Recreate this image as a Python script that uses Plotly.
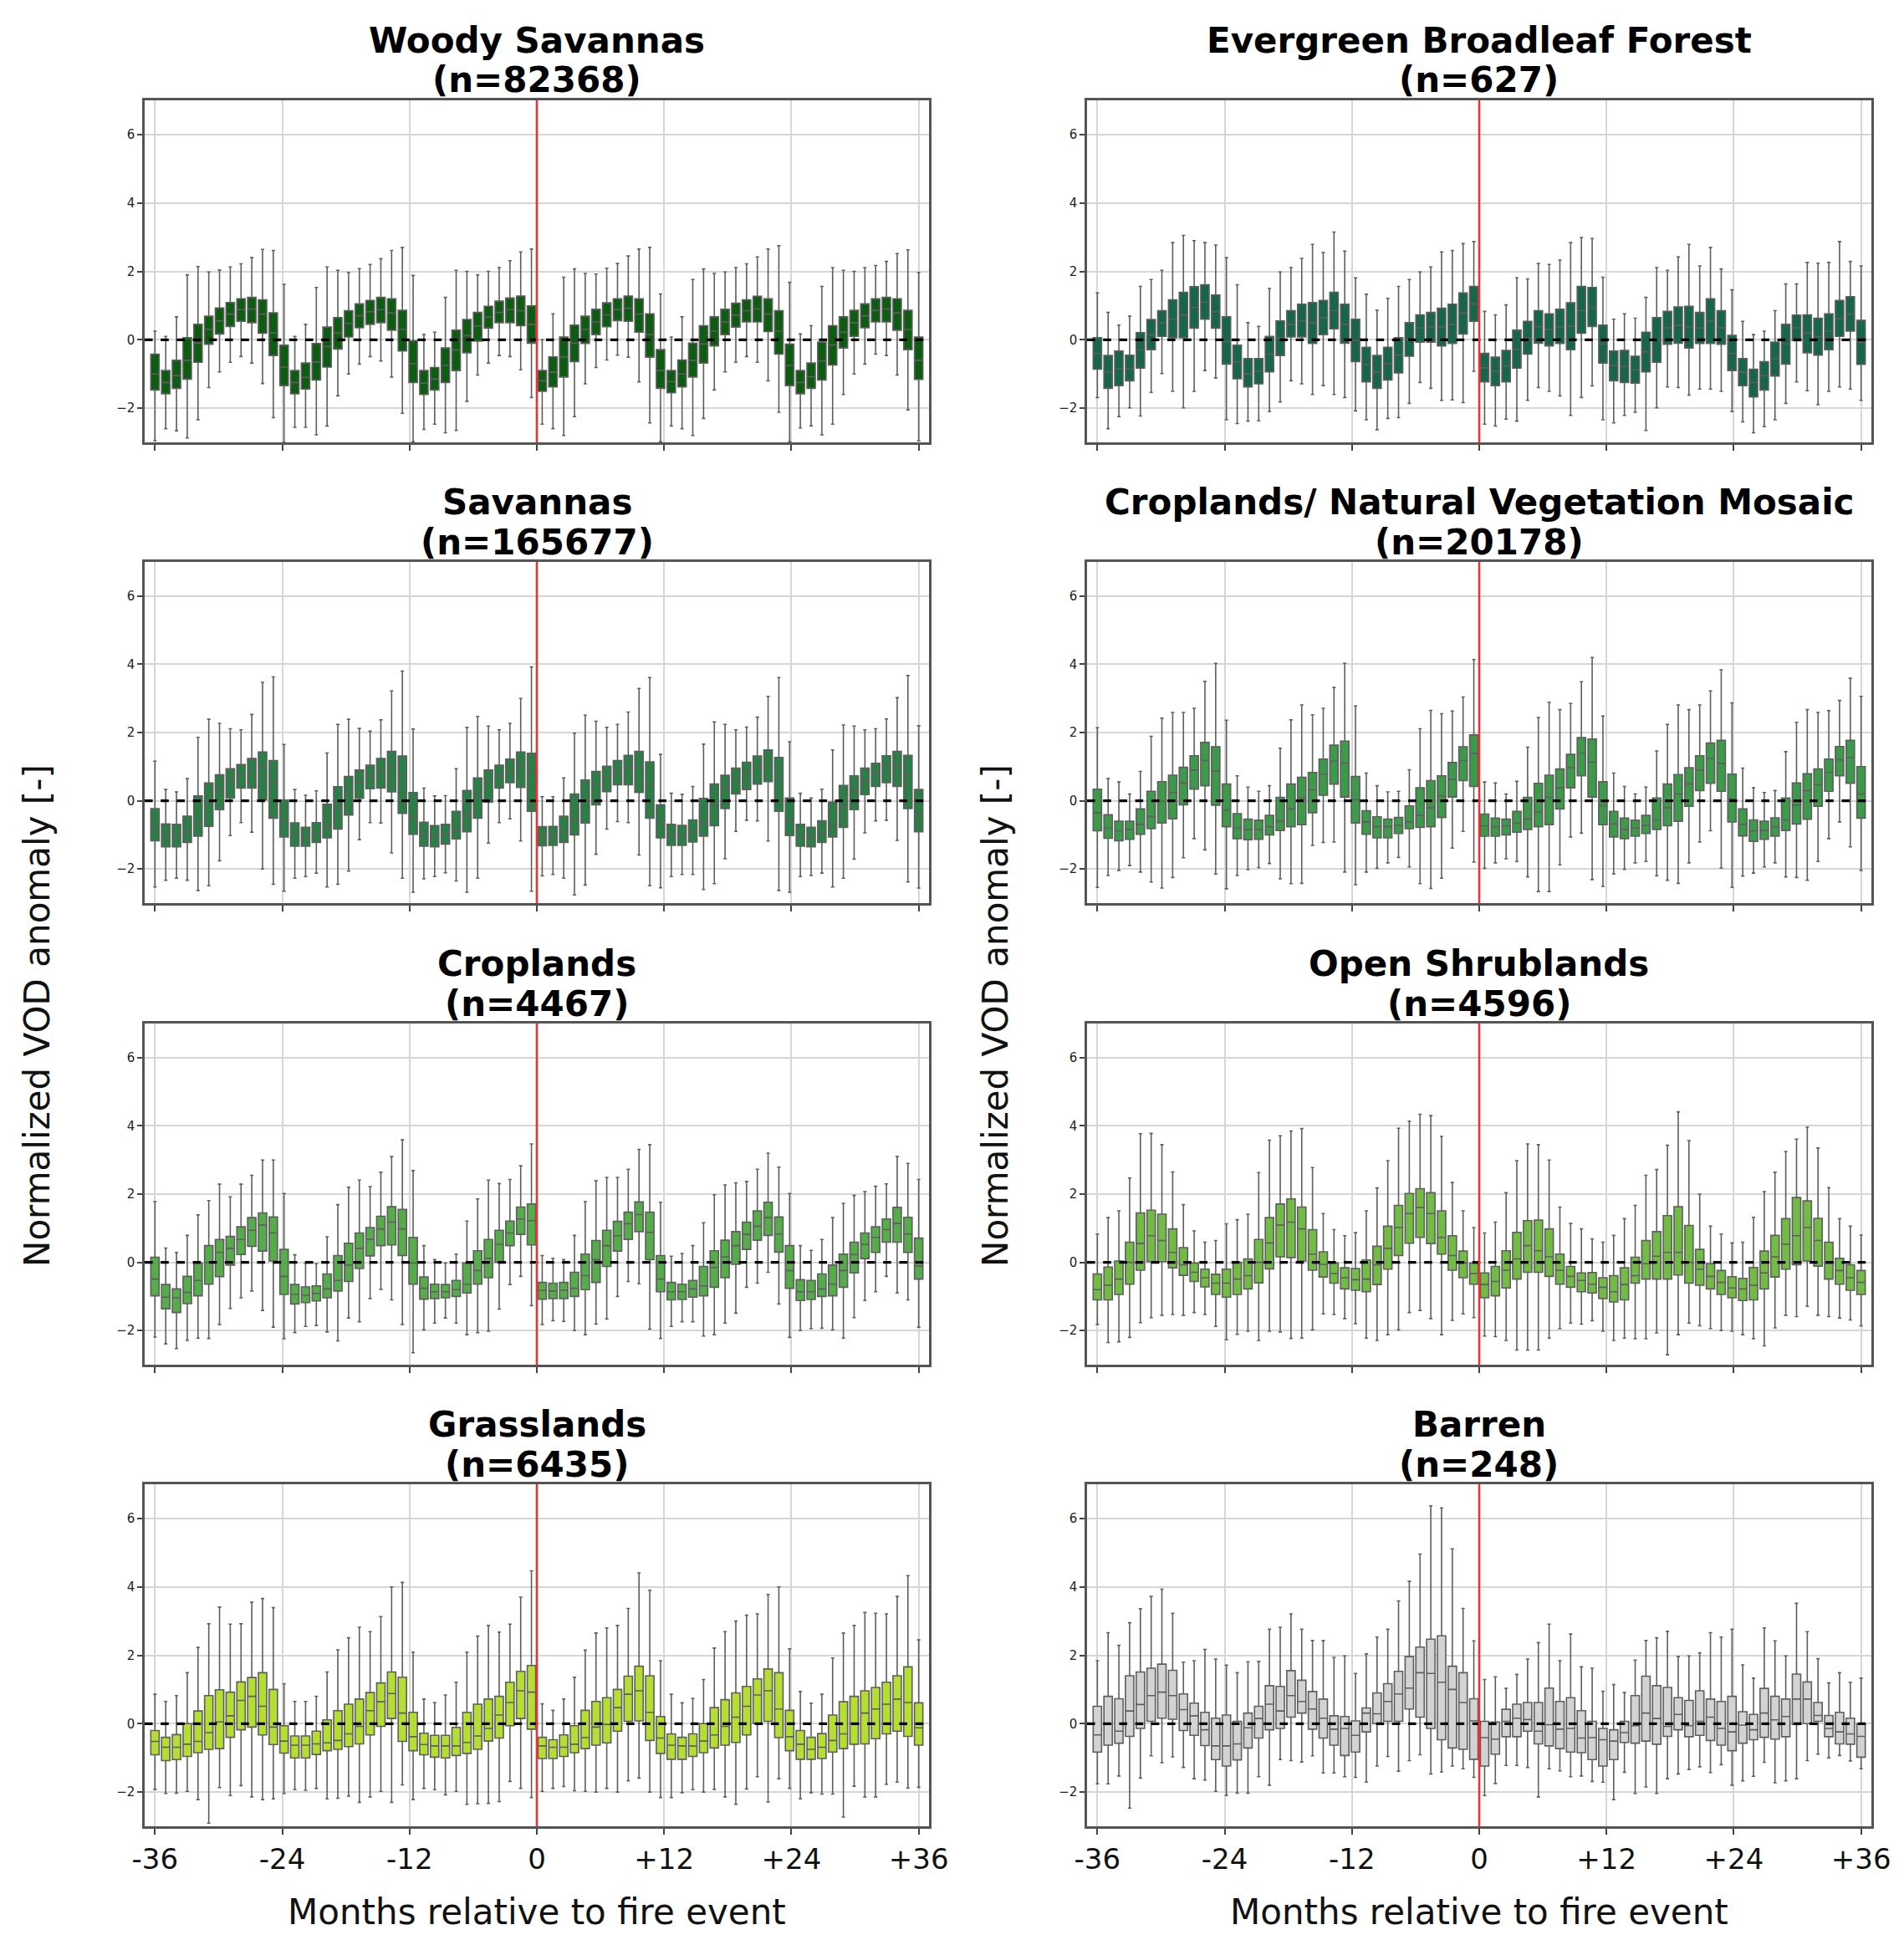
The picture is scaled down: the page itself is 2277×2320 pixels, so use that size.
import numpy as np
import plotly.graph_objects as go

# ── Months relative to the fire event (no box at month 0) ─────────────────────
MONTHS = list(range(-36, 0)) + list(range(1, 37))
TICK_LABELS = ["-36", "-24", "-12", "0", "+12", "+24", "+36"]

# ── Woody Savannas (n=82368) ──────────────────────────────────────────────────
WS_Q3 = [-0.42, -0.9, -0.6, 0.06, 0.45, 0.69, 0.93, 1.09, 1.2, 1.24, 1.17, 0.79, -0.16, -0.9, -0.68, -0.11, 0.37, 0.65, 0.85, 1.05, 1.15, 1.24, 1.2, 0.86, -0.03, -0.9, -0.81, -0.24, 0.28, 0.59, 0.8, 0.98, 1.13, 1.22, 1.28, 0.99,
         -0.9, -0.5, 0.08, 0.43, 0.69, 0.89, 1.08, 1.2, 1.28, 1.2, 0.76, -0.29, -0.9, -0.59, -0.1, 0.41, 0.67, 0.89, 1.07, 1.17, 1.27, 1.2, 0.85, -0.13, -0.9, -0.68, -0.07, 0.41, 0.67, 0.86, 1.05, 1.2, 1.24, 1.2, 0.86, 0.08]
WS_Q1 = [-1.47, -1.58, -1.42, -1.15, -0.66, -0.13, 0.17, 0.39, 0.54, 0.5, 0.19, -0.46, -1.34, -1.58, -1.44, -1.18, -0.8, -0.27, 0.08, 0.35, 0.45, 0.5, 0.28, -0.33, -1.25, -1.6, -1.47, -1.25, -0.9, -0.38, -0.04, 0.34, 0.5, 0.5, 0.41, -0.1,
         -1.51, -1.38, -1.09, -0.64, -0.11, 0.15, 0.38, 0.56, 0.54, 0.22, -0.51, -1.42, -1.55, -1.38, -1.09, -0.68, -0.18, 0.15, 0.37, 0.52, 0.52, 0.24, -0.42, -1.34, -1.58, -1.42, -1.18, -0.74, -0.24, 0.1, 0.35, 0.52, 0.52, 0.28, -0.29, -1.16]
WS_MED = [-1.0, -1.25, -1.05, -0.6, -0.1, 0.3, 0.55, 0.75, 0.88, 0.9, 0.75, 0.2, -0.8, -1.25, -1.1, -0.65, -0.2, 0.2, 0.48, 0.7, 0.82, 0.88, 0.78, 0.3, -0.7, -1.27, -1.15, -0.75, -0.3, 0.12, 0.4, 0.66, 0.8, 0.88, 0.85, 0.45,
          -1.2, -0.95, -0.5, -0.1, 0.3, 0.52, 0.73, 0.88, 0.92, 0.75, 0.15, -0.9, -1.22, -1.0, -0.6, -0.12, 0.25, 0.52, 0.72, 0.85, 0.9, 0.75, 0.25, -0.75, -1.25, -1.08, -0.62, -0.15, 0.22, 0.5, 0.7, 0.86, 0.9, 0.78, 0.3, -0.6]
WS_HI = [0.25, 0.1, 0.67, 1.9, 2.14, 1.98, 2.04, 2.13, 2.22, 2.4, 2.64, 2.61, 1.62, 0.1, 0.45, 1.53, 2.13, 2.03, 1.97, 2.08, 2.2, 2.37, 2.61, 2.7, 1.88, 0.15, 0.22, 1.24, 2.03, 2.0, 1.9, 2.0, 2.11, 2.31, 2.57, 2.65,
         0.0, 0.76, 1.83, 2.07, 1.94, 1.92, 2.09, 2.23, 2.45, 2.65, 2.7, 1.34, 0.08, 0.67, 1.76, 2.07, 1.94, 1.98, 2.11, 2.22, 2.42, 2.65, 2.75, 1.68, 0.17, 0.41, 1.56, 2.11, 2.03, 2.0, 2.11, 2.17, 2.29, 2.52, 2.63, 1.97]
WS_LO = [-2.95, -2.6, -2.66, -2.87, -2.34, -1.4, -0.94, -0.66, -0.49, -0.68, -1.28, -2.28, -3.0, -2.56, -2.56, -2.78, -2.52, -1.64, -1.0, -0.71, -0.49, -0.62, -1.09, -2.15, -2.98, -2.62, -2.47, -2.72, -2.65, -1.8, -1.03, -0.68, -0.46, -0.49, -0.88, -1.69,
         -2.47, -2.6, -2.8, -2.25, -1.29, -0.81, -0.59, -0.45, -0.51, -1.23, -2.43, -2.98, -2.52, -2.6, -2.8, -2.3, -1.47, -0.94, -0.66, -0.49, -0.66, -1.2, -2.12, -2.98, -2.58, -2.52, -2.78, -2.47, -1.6, -1.0, -0.71, -0.42, -0.46, -1.03, -2.05, -2.95]

# ── Evergreen Broadleaf Forest (n=627) ────────────────────────────────────────
EBF_Q3 = [0.06, -0.46, -0.33, -0.45, 0.21, 0.59, 0.85, 1.17, 1.39, 1.55, 1.61, 1.31, 0.67, -0.16, -0.55, -0.55, 0.1, 0.55, 0.85, 1.04, 1.09, 1.15, 1.39, 1.04, 0.6, -0.22, -0.46, -0.22, 0.06, 0.5, 0.73, 0.8, 0.92, 1.04, 1.37, 1.56,
          -0.4, -0.51, -0.31, 0.28, 0.54, 0.85, 0.76, 0.89, 1.08, 1.56, 1.53, 0.43, -0.33, -0.31, -0.48, 0.22, 0.65, 0.83, 0.96, 0.98, 0.8, 1.2, 0.85, 0.13, -0.55, -0.86, -0.64, -0.07, 0.45, 0.72, 0.73, 0.63, 0.76, 1.15, 1.26, 0.57]
EBF_Q1 = [-0.86, -1.42, -1.34, -1.2, -0.83, -0.29, 0.1, 0.06, 0.06, 0.34, 0.6, 0.34, -0.71, -1.14, -1.38, -1.29, -0.94, -0.46, 0.08, 0.08, -0.11, 0.15, 0.32, -0.1, -0.64, -1.23, -1.42, -1.18, -0.97, -0.48, -0.07, -0.07, -0.18, -0.11, 0.17, 0.54,
          -1.23, -1.34, -1.23, -0.83, -0.42, -0.1, -0.18, -0.11, -0.29, 0.19, 0.39, -0.68, -1.2, -1.25, -1.27, -0.94, -0.66, -0.13, -0.1, -0.24, -0.11, -0.11, -0.13, -0.9, -1.34, -1.67, -1.47, -1.06, -0.71, -0.03, -0.38, -0.45, -0.29, 0.1, 0.25, -0.72]
EBF_MED = [-0.4, -0.95, -0.85, -0.85, -0.3, 0.15, 0.5, 0.6, 0.72, 0.95, 1.1, 0.82, -0.05, -0.65, -1.0, -0.92, -0.42, 0.05, 0.45, 0.55, 0.5, 0.65, 0.85, 0.45, -0.02, -0.72, -0.95, -0.7, -0.45, 0.0, 0.35, 0.38, 0.38, 0.45, 0.78, 1.05,
           -0.82, -0.92, -0.77, -0.28, 0.05, 0.38, 0.3, 0.38, 0.4, 0.85, 0.95, -0.12, -0.75, -0.78, -0.88, -0.35, 0.0, 0.35, 0.42, 0.38, 0.35, 0.55, 0.35, -0.4, -0.95, -1.25, -1.05, -0.55, -0.12, 0.35, 0.2, 0.1, 0.25, 0.62, 0.75, -0.08]
EBF_HI = [1.37, 0.8, 0.43, 0.69, 1.56, 1.76, 2.03, 2.84, 3.05, 2.9, 2.84, 2.77, 2.4, 1.61, 0.5, 0.39, 1.5, 1.98, 2.11, 2.38, 2.79, 2.55, 3.15, 2.59, 1.81, 1.33, 0.86, 1.21, 1.56, 1.76, 1.98, 2.13, 2.57, 2.61, 2.81, 2.87,
          0.83, 0.73, 1.02, 1.81, 1.78, 2.23, 2.2, 2.33, 2.84, 2.99, 2.96, 1.83, 0.6, 0.76, 0.63, 1.24, 2.11, 2.03, 2.42, 2.79, 2.16, 2.7, 2.07, 1.46, 0.54, 0.15, 0.25, 0.85, 1.63, 1.63, 2.26, 2.24, 2.26, 2.87, 2.29, 2.16]
EBF_LO = [-1.69, -2.6, -2.25, -1.99, -2.23, -1.54, -0.99, -1.51, -1.99, -1.51, -0.9, -1.12, -2.34, -2.45, -2.38, -2.37, -2.1, -1.82, -1.2, -1.29, -1.6, -1.34, -1.6, -1.69, -2.08, -2.34, -2.63, -2.3, -2.28, -1.86, -1.25, -1.42, -1.77, -1.76, -1.84, -0.92,
          -2.47, -2.52, -2.32, -2.38, -1.77, -1.4, -1.51, -1.64, -2.21, -1.69, -1.35, -2.34, -2.43, -2.21, -2.12, -2.65, -1.99, -1.38, -1.4, -1.62, -1.44, -1.44, -1.51, -2.1, -2.4, -2.72, -2.54, -2.34, -1.86, -1.23, -1.49, -1.9, -1.51, -1.38, -1.44, -1.77]

# ── Savannas (n=165677) ───────────────────────────────────────────────────────
SAV_Q3 = [-0.23, -0.68, -0.69, -0.45, 0.14, 0.52, 0.76, 0.94, 1.06, 1.24, 1.43, 1.18, 0.02, -0.65, -0.78, -0.64, -0.1, 0.41, 0.71, 0.9, 1.04, 1.24, 1.45, 1.31, 0.24, -0.63, -0.73, -0.69, -0.31, 0.3, 0.67, 0.9, 1.04, 1.22, 1.43, 1.39,
          -0.76, -0.75, -0.45, 0.2, 0.61, 0.86, 1.01, 1.18, 1.33, 1.45, 1.14, -0.12, -0.69, -0.72, -0.56, 0.07, 0.49, 0.75, 0.96, 1.13, 1.31, 1.49, 1.27, 0.08, -0.69, -0.78, -0.59, -0.04, 0.45, 0.73, 0.96, 1.1, 1.32, 1.45, 1.33, 0.33]
SAV_Q1 = [-1.17, -1.35, -1.35, -1.22, -1.04, -0.75, -0.26, 0.08, 0.37, 0.37, 0.02, -0.51, -1.06, -1.33, -1.33, -1.22, -1.09, -0.83, -0.42, 0.07, 0.35, 0.37, 0.26, -0.37, -0.98, -1.33, -1.35, -1.27, -1.12, -0.91, -0.51, -0.04, 0.37, 0.53, 0.39, -0.31,
          -1.32, -1.31, -1.22, -1.0, -0.65, -0.12, 0.27, 0.47, 0.47, 0.24, -0.51, -1.09, -1.31, -1.31, -1.21, -1.04, -0.73, -0.23, 0.2, 0.33, 0.49, 0.56, -0.31, -1.02, -1.33, -1.35, -1.22, -1.06, -0.78, -0.26, 0.18, 0.42, 0.53, 0.42, -0.23, -0.91]
SAV_MED = [-0.76, -1.04, -1.04, -0.92, -0.65, -0.04, 0.34, 0.61, 0.76, 0.91, 1.0, 0.53, -0.61, -0.98, -1.04, -0.96, -0.78, -0.2, 0.24, 0.55, 0.73, 0.87, 1.02, 0.73, -0.47, -0.98, -1.04, -0.98, -0.86, -0.41, 0.18, 0.53, 0.73, 0.86, 1.06, 0.86,
           -1.04, -1.04, -0.9, -0.57, 0.0, 0.47, 0.69, 0.86, 0.98, 1.0, 0.47, -0.65, -1.02, -1.02, -0.9, -0.65, -0.12, 0.38, 0.63, 0.85, 1.0, 1.0, 0.72, -0.57, -1.04, -1.06, -0.94, -0.72, -0.18, 0.31, 0.6, 0.82, 1.04, 1.06, 0.76, -0.41]
SAV_HI = [1.16, 0.33, 0.26, 0.65, 1.86, 2.39, 2.27, 2.11, 2.08, 2.53, 3.47, 3.63, 1.65, 0.33, 0.16, 0.29, 1.4, 2.24, 2.39, 2.12, 2.04, 2.37, 3.22, 3.8, 2.1, 0.37, 0.14, 0.15, 0.94, 2.15, 2.47, 2.19, 2.08, 2.27, 3.0, 3.92,
          0.12, 0.12, 0.67, 1.98, 2.51, 2.33, 2.15, 2.24, 2.6, 3.29, 3.61, 1.36, 0.22, 0.19, 0.42, 1.66, 2.31, 2.24, 2.08, 2.16, 2.45, 3.06, 3.61, 1.73, 0.22, 0.08, 0.34, 1.49, 2.22, 2.19, 2.08, 2.11, 2.4, 3.02, 3.67, 2.2]
SAV_LO = [-2.53, -2.33, -2.27, -2.33, -2.63, -2.49, -1.76, -1.02, -0.64, -0.92, -2.0, -2.45, -2.65, -2.27, -2.22, -2.12, -2.53, -2.45, -2.06, -1.14, -0.64, -0.65, -1.53, -2.27, -2.68, -2.29, -2.22, -2.11, -2.35, -2.68, -2.27, -1.24, -0.64, -0.53, -1.18, -2.65,
          -2.2, -2.16, -2.27, -2.76, -2.47, -1.57, -0.83, -0.61, -0.64, -1.59, -2.49, -2.55, -2.22, -2.16, -2.16, -2.6, -2.43, -1.7, -0.9, -0.57, -0.59, -1.18, -2.63, -2.68, -2.22, -2.19, -2.12, -2.53, -2.27, -1.71, -0.94, -0.59, -0.57, -1.16, -2.38, -2.56]

# ── Croplands/ Natural Vegetation Mosaic (n=20178) ────────────────────────────
CNV_Q3 = [0.34, -0.41, -0.6, -0.6, -0.24, 0.28, 0.56, 0.75, 0.98, 1.32, 1.71, 1.58, 0.49, -0.38, -0.54, -0.57, -0.43, 0.1, 0.49, 0.69, 0.83, 1.22, 1.63, 1.75, 0.71, -0.29, -0.47, -0.54, -0.49, -0.15, 0.38, 0.59, 0.73, 1.12, 1.58, 1.93,
          -0.39, -0.51, -0.54, -0.31, 0.1, 0.51, 0.75, 0.93, 1.36, 1.85, 1.81, 0.56, -0.31, -0.51, -0.57, -0.43, 0.08, 0.49, 0.77, 0.97, 1.32, 1.69, 1.77, 0.78, -0.24, -0.56, -0.6, -0.5, 0.08, 0.52, 0.79, 0.93, 1.22, 1.59, 1.77, 1.0]
CNV_Q1 = [-0.88, -1.1, -1.17, -1.13, -0.98, -0.82, -0.65, -0.53, -0.12, 0.34, 0.44, -0.13, -0.76, -1.11, -1.14, -1.13, -1.0, -0.87, -0.76, -0.7, -0.35, 0.16, 0.49, 0.11, -0.65, -0.98, -1.09, -1.09, -0.96, -0.82, -0.78, -0.76, -0.49, 0.11, 0.59, 0.42,
          -1.04, -1.04, -1.0, -0.92, -0.84, -0.76, -0.7, -0.24, 0.38, 0.73, 0.11, -0.7, -1.06, -1.11, -1.04, -0.96, -0.84, -0.73, -0.6, -0.16, 0.3, 0.51, 0.28, -0.62, -1.03, -1.19, -1.13, -1.04, -0.87, -0.68, -0.54, -0.16, 0.28, 0.73, 0.51, -0.51]
CNV_MED = [-0.35, -0.8, -0.88, -0.84, -0.7, -0.46, -0.01, 0.24, 0.52, 0.9, 1.18, 0.87, -0.27, -0.8, -0.84, -0.84, -0.76, -0.6, -0.24, 0.08, 0.32, 0.78, 1.16, 1.1, 0.03, -0.62, -0.76, -0.76, -0.72, -0.62, -0.43, -0.21, 0.14, 0.63, 1.18, 1.39,
           -0.74, -0.76, -0.74, -0.66, -0.54, -0.33, 0.1, 0.38, 0.97, 1.4, 1.14, -0.15, -0.68, -0.84, -0.8, -0.72, -0.56, -0.21, 0.2, 0.49, 0.89, 1.24, 1.09, 0.06, -0.7, -0.88, -0.87, -0.76, -0.56, -0.13, 0.3, 0.47, 0.83, 1.2, 1.26, 0.2]
CNV_HI = [2.14, 0.65, 0.55, 0.2, 0.86, 1.89, 2.42, 2.59, 2.59, 2.71, 3.5, 4.03, 2.36, 0.73, 0.4, 0.28, 0.44, 1.54, 2.37, 2.81, 2.52, 2.71, 3.32, 4.03, 2.78, 0.81, 0.44, 0.26, 0.28, 0.91, 2.11, 2.65, 2.55, 2.63, 3.04, 4.14,
          0.55, 0.52, 0.2, 0.57, 1.57, 2.44, 2.89, 2.67, 2.85, 3.49, 4.2, 2.48, 0.81, 0.42, 0.2, 0.4, 1.46, 2.24, 2.81, 2.67, 2.81, 3.22, 3.84, 2.87, 0.96, 0.38, 0.24, 0.3, 1.44, 2.3, 2.67, 2.59, 2.64, 2.94, 3.59, 3.06]
CNV_LO = [-2.54, -2.19, -2.04, -1.9, -2.09, -2.38, -2.56, -2.25, -1.67, -1.11, -1.44, -2.15, -2.58, -2.19, -2.02, -1.96, -1.84, -2.29, -2.43, -2.42, -1.31, -1.22, -1.21, -2.09, -2.46, -2.09, -1.98, -1.82, -1.66, -1.94, -2.43, -2.57, -2.27, -1.39, -0.9, -1.8,
          -1.98, -1.82, -1.7, -1.78, -2.23, -2.66, -2.66, -1.88, -1.06, -0.95, -2.31, -2.51, -2.15, -2.01, -1.82, -1.78, -2.2, -2.33, -2.42, -1.82, -1.21, -0.88, -1.97, -2.54, -2.21, -2.12, -1.94, -1.82, -2.23, -2.25, -2.33, -1.78, -1.11, -0.62, -1.35, -2.04]

# ── Croplands (n=4467) ────────────────────────────────────────────────────────
CRO_Q3 = [0.15, -0.65, -0.78, -0.41, -0.02, 0.49, 0.67, 0.76, 1.04, 1.31, 1.45, 1.33, 0.38, -0.65, -0.72, -0.69, -0.34, 0.2, 0.56, 0.86, 1.02, 1.35, 1.63, 1.55, 0.73, -0.43, -0.64, -0.65, -0.53, -0.02, 0.34, 0.67, 0.94, 1.21, 1.62, 1.71,
          -0.59, -0.61, -0.59, -0.29, 0.24, 0.64, 0.94, 1.2, 1.47, 1.77, 1.47, 0.2, -0.59, -0.64, -0.53, -0.12, 0.34, 0.65, 0.9, 1.18, 1.51, 1.76, 1.33, 0.49, -0.51, -0.53, -0.34, -0.08, 0.24, 0.59, 0.86, 1.04, 1.27, 1.61, 1.32, 0.71]
CRO_Q1 = [-0.98, -1.36, -1.47, -1.21, -0.98, -0.64, -0.42, -0.08, 0.23, 0.47, 0.33, 0.04, -0.94, -1.22, -1.18, -1.13, -1.04, -0.84, -0.56, -0.18, 0.19, 0.49, 0.51, 0.2, -0.64, -1.08, -1.06, -1.04, -1.0, -0.9, -0.64, -0.45, 0.0, 0.49, 0.82, 0.51,
          -1.08, -1.06, -1.06, -1.0, -0.8, -0.59, -0.12, 0.33, 0.67, 0.9, 0.08, -0.86, -1.1, -1.09, -1.02, -0.98, -0.73, -0.45, -0.06, 0.38, 0.65, 0.79, 0.3, -0.76, -1.12, -1.09, -1.0, -0.98, -0.73, -0.31, 0.11, 0.29, 0.59, 0.59, 0.29, -0.49]
CRO_MED = [-0.49, -1.02, -1.04, -0.88, -0.53, 0.0, 0.29, 0.41, 0.67, 0.94, 1.09, 0.86, -0.41, -0.94, -0.96, -0.91, -0.78, -0.53, -0.08, 0.41, 0.67, 0.98, 1.18, 0.98, -0.02, -0.76, -0.86, -0.86, -0.8, -0.64, -0.24, 0.12, 0.53, 0.86, 1.27, 1.22,
           -0.82, -0.84, -0.82, -0.76, -0.39, 0.08, 0.49, 0.78, 1.13, 1.4, 0.88, -0.49, -0.86, -0.86, -0.78, -0.69, -0.15, 0.16, 0.49, 0.82, 1.06, 1.31, 0.83, -0.24, -0.86, -0.86, -0.78, -0.64, -0.24, 0.23, 0.53, 0.73, 0.96, 1.14, 0.83, -0.11]
CRO_HI = [1.78, 0.42, 0.29, 0.79, 1.39, 1.81, 2.29, 1.92, 2.29, 2.55, 3.0, 3.0, 2.02, 0.22, -0.02, -0.04, 0.75, 1.69, 2.2, 2.41, 2.22, 2.64, 3.1, 3.59, 2.69, 0.49, 0.08, -0.02, 0.24, 1.21, 1.86, 2.41, 2.31, 2.43, 2.83, 3.47,
          0.2, 0.12, 0.08, 0.79, 1.78, 2.39, 2.49, 2.49, 2.73, 3.31, 3.45, 1.76, 0.18, 0.26, 0.49, 1.16, 1.98, 2.27, 2.33, 2.37, 2.73, 3.2, 2.79, 2.02, 0.49, 0.35, 0.67, 1.31, 1.73, 1.96, 2.07, 2.23, 2.3, 3.1, 2.9, 2.43]
CRO_LO = [-2.19, -2.39, -2.53, -2.29, -2.22, -2.23, -1.82, -1.35, -1.04, -0.84, -1.41, -1.9, -2.24, -2.06, -1.88, -1.85, -2.04, -2.3, -1.63, -1.74, -1.06, -0.79, -1.1, -1.82, -2.65, -1.98, -1.78, -1.63, -1.78, -2.12, -2.06, -2.02, -1.37, -0.65, -0.41, -1.27,
          -1.82, -1.71, -1.73, -2.0, -2.12, -1.81, -1.66, -1.0, -0.56, -0.63, -1.96, -2.23, -1.88, -1.74, -1.74, -2.16, -2.12, -1.78, -1.49, -0.73, -0.61, -0.29, -1.22, -2.2, -2.0, -1.94, -1.93, -1.98, -2.22, -1.62, -1.12, -0.86, -0.41, -0.9, -1.1, -1.9]

# ── Open Shrublands (n=4596) ──────────────────────────────────────────────────
OSH_Q3 = [-0.34, -0.14, 0.04, 0.59, 1.45, 1.53, 1.41, 0.98, 0.43, -0.02, -0.2, -0.35, -0.2, 0.0, 0.1, 0.67, 1.31, 1.71, 1.86, 1.62, 0.96, 0.31, -0.02, -0.16, -0.18, 0.07, 0.47, 1.06, 1.67, 2.02, 2.16, 2.04, 1.51, 0.78, 0.33, -0.02,
          -0.31, -0.12, 0.34, 0.88, 1.22, 1.24, 0.98, 0.24, -0.12, -0.31, -0.3, -0.45, -0.39, -0.16, 0.15, 0.64, 0.9, 1.37, 1.63, 1.08, 0.38, -0.04, -0.24, -0.42, -0.47, -0.15, 0.33, 0.79, 1.28, 1.9, 1.8, 1.29, 0.59, 0.12, -0.07, -0.24]
OSH_Q1 = [-1.1, -1.1, -0.94, -0.64, -0.23, 0.02, 0.02, -0.16, -0.38, -0.56, -0.72, -0.94, -1.02, -0.94, -0.78, -0.6, -0.19, 0.16, 0.14, 0.04, -0.23, -0.43, -0.61, -0.78, -0.82, -0.86, -0.65, -0.2, 0.2, 0.56, 0.73, 0.55, 0.24, -0.23, -0.45, -0.64,
          -1.04, -0.98, -0.75, -0.49, -0.29, -0.29, -0.41, -0.64, -0.73, -0.86, -0.9, -1.06, -1.16, -1.1, -0.61, -0.49, -0.49, -0.49, -0.37, -0.61, -0.67, -0.78, -0.94, -1.04, -1.12, -1.1, -0.78, -0.43, -0.2, -0.07, 0.04, -0.11, -0.49, -0.64, -0.82, -0.94]
OSH_MED = [-0.8, -0.67, -0.49, 0.0, 0.55, 0.78, 0.64, 0.29, -0.07, -0.29, -0.45, -0.61, -0.61, -0.49, -0.39, 0.0, 0.57, 1.09, 1.18, 0.98, 0.24, -0.06, -0.33, -0.45, -0.51, -0.49, -0.07, 0.41, 1.02, 1.43, 1.61, 1.43, 0.73, 0.2, -0.02, -0.33,
           -0.65, -0.56, -0.23, 0.1, 0.49, 0.34, 0.16, -0.23, -0.41, -0.53, -0.64, -0.73, -0.86, -0.65, -0.39, -0.04, 0.18, 0.29, 0.29, 0.0, -0.2, -0.41, -0.59, -0.75, -0.78, -0.67, -0.31, 0.16, 0.53, 0.78, 1.02, 0.64, -0.02, -0.24, -0.45, -0.59]
OSH_HI = [0.83, 1.31, 1.51, 2.47, 3.77, 3.78, 3.45, 2.65, 1.69, 0.92, 0.59, 0.64, 1.13, 1.25, 1.41, 2.63, 3.58, 3.71, 3.85, 3.92, 2.78, 1.43, 0.96, 0.78, 0.87, 1.51, 2.18, 2.98, 3.93, 4.14, 4.34, 4.3, 3.69, 2.34, 1.51, 1.02,
          0.86, 1.18, 2.04, 2.98, 3.47, 3.45, 3.0, 1.62, 1.14, 0.98, 0.69, 0.59, 0.79, 1.28, 1.67, 2.55, 2.72, 3.43, 4.41, 3.57, 2.0, 1.06, 0.83, 0.57, 0.59, 1.32, 2.07, 2.64, 3.25, 3.61, 3.96, 3.35, 2.19, 1.28, 1.06, 0.8]
OSH_LO = [-1.82, -2.35, -2.33, -2.2, -1.77, -1.62, -1.55, -1.53, -1.55, -1.47, -1.53, -1.88, -2.27, -2.11, -2.02, -2.29, -2.02, -2.04, -2.23, -2.22, -1.98, -1.51, -1.53, -1.65, -1.8, -2.22, -2.29, -2.12, -1.98, -1.47, -1.41, -1.65, -2.12, -1.7, -1.51, -1.62,
          -2.16, -2.18, -2.29, -2.57, -2.57, -2.57, -2.22, -1.94, -1.78, -1.81, -1.71, -2.02, -2.29, -2.22, -2.24, -2.24, -2.07, -2.71, -2.12, -1.78, -1.86, -1.94, -2.0, -2.02, -2.12, -2.24, -2.45, -1.92, -1.55, -1.59, -1.29, -1.55, -1.59, -1.63, -1.69, -1.86]

# ── Grasslands (n=6435) ───────────────────────────────────────────────────────
GRA_Q3 = [-0.2, -0.4, -0.32, 0.0, 0.37, 0.82, 0.99, 0.92, 1.22, 1.35, 1.49, 1.0, -0.06, -0.36, -0.36, -0.22, 0.11, 0.38, 0.57, 0.72, 0.91, 1.19, 1.51, 1.36, 0.33, -0.28, -0.34, -0.34, -0.11, 0.33, 0.57, 0.72, 0.8, 1.21, 1.53, 1.7,
          -0.4, -0.47, -0.33, -0.06, 0.39, 0.65, 0.76, 1.0, 1.39, 1.68, 1.4, 0.21, -0.3, -0.4, -0.3, 0.0, 0.47, 0.7, 0.9, 1.09, 1.31, 1.6, 1.49, 0.39, -0.2, -0.4, -0.29, 0.25, 0.64, 0.8, 0.96, 1.06, 1.21, 1.4, 1.66, 0.61]
GRA_Q1 = [-0.91, -1.08, -1.05, -0.96, -0.85, -0.75, -0.73, -0.4, -0.18, -0.1, -0.33, -0.61, -0.86, -1.0, -1.0, -0.9, -0.79, -0.75, -0.67, -0.59, -0.33, -0.08, 0.15, -0.52, -0.79, -0.91, -0.98, -1.0, -0.93, -0.87, -0.75, -0.51, -0.42, -0.06, 0.15, -0.16,
          -1.02, -1.02, -0.96, -0.85, -0.73, -0.63, -0.56, -0.22, 0.07, 0.08, -0.49, -0.87, -1.04, -1.04, -0.96, -0.85, -0.71, -0.63, -0.55, -0.33, 0.0, 0.07, -0.41, -0.79, -1.04, -1.04, -1.02, -0.83, -0.73, -0.6, -0.59, -0.44, -0.3, -0.22, -0.37, -0.63]
GRA_MED = [-0.52, -0.69, -0.69, -0.6, -0.52, -0.26, 0.05, 0.23, 0.68, 0.8, 0.51, -0.1, -0.51, -0.63, -0.63, -0.59, -0.56, -0.49, -0.3, -0.08, 0.38, 0.64, 0.88, 0.31, -0.38, -0.61, -0.65, -0.65, -0.65, -0.55, -0.36, -0.14, 0.25, 0.62, 0.96, 0.92,
           -0.65, -0.69, -0.69, -0.6, -0.41, -0.1, -0.02, 0.47, 0.86, 0.96, 0.33, -0.42, -0.63, -0.65, -0.65, -0.51, -0.33, -0.08, 0.19, 0.51, 0.84, 0.96, 0.43, -0.38, -0.6, -0.75, -0.69, -0.49, -0.3, 0.0, 0.31, 0.43, 0.57, 0.72, 0.62, -0.12]
GRA_HI = [0.86, 0.65, 0.82, 1.49, 2.23, 2.92, 3.41, 2.91, 2.92, 3.55, 3.66, 3.39, 1.17, 0.65, 0.65, 0.8, 1.51, 2.16, 2.51, 2.82, 2.69, 3.13, 4.0, 4.13, 2.09, 0.72, 0.62, 0.84, 1.21, 2.09, 2.56, 2.87, 2.68, 2.91, 3.7, 4.47,
          0.58, 0.39, 0.72, 1.36, 2.15, 2.65, 2.8, 2.87, 3.37, 4.41, 3.9, 1.84, 0.86, 0.61, 0.74, 1.29, 2.21, 2.69, 3.0, 3.17, 3.21, 3.78, 4.0, 2.19, 0.94, 0.6, 0.86, 1.92, 2.65, 2.87, 3.25, 3.23, 3.21, 3.72, 4.33, 2.45]
GRA_LO = [-1.92, -2.04, -2.03, -1.98, -2.22, -2.91, -1.87, -2.1, -1.81, -2.14, -2.22, -2.2, -2.04, -1.93, -1.95, -1.89, -2.2, -2.18, -2.12, -2.3, -2.14, -1.98, -2.3, -1.79, -2.22, -1.89, -1.93, -2.08, -1.98, -2.36, -2.34, -2.33, -2.28, -1.69, -1.89, -2.16,
          -1.98, -1.89, -1.84, -1.96, -1.98, -2.0, -1.89, -2.0, -1.67, -1.59, -2.0, -2.16, -2.16, -2.02, -1.93, -2.0, -1.92, -2.14, -2.36, -1.91, -1.55, -2.29, -1.61, -1.89, -2.2, -2.02, -2.06, -2.06, -2.73, -1.83, -2.14, -2.14, -1.77, -1.71, -1.88, -1.86]

# ── Barren (n=248) ────────────────────────────────────────────────────────────
BAR_Q3 = [0.51, 0.8, 0.73, 1.4, 1.51, 1.62, 1.74, 1.56, 0.87, 0.6, 0.33, 0.16, 0.25, 0.07, 0.31, 0.51, 1.11, 1.09, 1.55, 1.27, 0.94, 0.72, 0.23, 0.21, 0.08, 0.46, 0.9, 1.17, 1.53, 1.96, 2.24, 2.47, 2.57, 1.68, 1.49, 0.73,
          0.07, 0.05, 0.42, 0.57, 0.62, 0.62, 1.04, 0.65, 0.76, 0.38, 0.07, -0.14, -0.18, 0.07, 0.82, 1.39, 1.11, 1.06, 0.76, 0.68, 0.96, 0.72, 0.65, 0.8, 0.35, 0.27, 1.03, 0.8, 0.72, 1.45, 1.22, 0.62, 0.24, 0.33, 0.16, 0.0]
BAR_Q1 = [-0.83, -0.63, -0.57, -0.37, -0.14, 0.07, 0.16, 0.13, -0.2, -0.34, -0.64, -1.05, -1.24, -1.06, -0.71, -0.42, -0.18, -0.14, 0.19, 0.31, -0.16, -0.42, -0.63, -0.93, -0.83, -0.24, 0.0, 0.07, 0.07, 0.43, 0.19, -0.14, -0.47, -0.71, -0.75, -1.04,
          -1.24, -0.89, -0.38, -0.38, -0.22, -0.59, -0.65, -0.73, -0.83, -0.85, -1.05, -1.24, -1.05, -0.55, -0.57, -0.51, -0.6, -0.37, -0.18, -0.38, -0.34, -0.49, -0.63, -0.79, -0.57, -0.47, -0.4, -0.45, -0.38, -0.02, 0.0, 0.07, -0.38, -0.59, -0.6, -0.98]
BAR_MED = [-0.33, -0.02, -0.22, 0.37, 0.56, 0.82, 0.92, 0.82, 0.41, 0.23, -0.18, -0.65, -0.65, -0.59, -0.12, 0.15, 0.57, 0.37, 0.82, 0.65, 0.43, 0.16, -0.16, -0.14, -0.34, 0.31, 0.29, 0.65, 0.87, 1.04, 1.49, 1.47, 1.21, 1.0, 0.62, 0.08,
           -0.41, -0.45, 0.07, 0.16, 0.12, -0.22, -0.03, -0.16, -0.14, -0.42, -0.41, -0.47, -0.51, -0.26, -0.06, 0.31, 0.15, -0.08, 0.27, -0.06, 0.07, 0.19, -0.14, -0.24, -0.04, -0.18, 0.31, 0.11, 0.21, 0.72, 0.72, 0.24, -0.14, -0.24, -0.3, -0.37]
BAR_HI = [1.84, 2.66, 2.29, 2.95, 3.36, 3.72, 3.93, 3.23, 1.8, 1.84, 2.17, 1.89, 1.71, 1.49, 1.81, 1.82, 2.76, 2.82, 3.21, 2.76, 2.43, 2.43, 1.94, 1.98, 1.47, 2.04, 2.53, 2.76, 3.59, 4.16, 4.96, 6.37, 6.31, 5.11, 3.37, 2.42,
          1.29, 1.37, 1.03, 1.44, 1.89, 2.37, 2.91, 1.84, 2.62, 1.66, 1.62, 0.95, 1.14, 0.91, 1.86, 2.43, 2.51, 2.7, 1.96, 1.98, 2.07, 2.66, 2.53, 2.76, 1.72, 1.33, 2.8, 2.42, 1.98, 3.52, 2.69, 1.9, 1.19, 1.49, 1.21, 1.33]
BAR_LO = [-1.76, -1.76, -1.53, -2.47, -1.59, -0.94, -1.14, -0.97, -1.28, -1.61, -1.65, -1.98, -2.1, -2.03, -2.03, -1.55, -1.8, -1.05, -1.08, -1.12, -0.94, -1.44, -1.44, -1.55, -1.57, -1.71, -1.24, -0.96, -1.39, -1.08, -0.91, -1.47, -1.41, -1.24, -1.32, -1.57,
          -2.1, -1.75, -1.22, -1.22, -1.28, -2.14, -1.32, -1.38, -1.55, -1.53, -1.69, -1.71, -2.22, -1.42, -2.04, -1.85, -2.04, -1.61, -1.47, -1.34, -1.26, -1.43, -1.2, -1.8, -1.67, -1.54, -1.13, -1.73, -1.67, -1.61, -1.08, -0.89, -1.0, -0.93, -1.09, -1.32]

# ── Panel definitions (row-major, 4 rows x 2 cols) ────────────────────────────
PANELS = [
    ("Woody Savannas", 82368, "#0c5c12", WS_Q1, WS_MED, WS_Q3, WS_LO, WS_HI),
    ("Evergreen Broadleaf Forest", 627, "#15664a", EBF_Q1, EBF_MED, EBF_Q3, EBF_LO, EBF_HI),
    ("Savannas", 165677, "#2b7f46", SAV_Q1, SAV_MED, SAV_Q3, SAV_LO, SAV_HI),
    ("Croplands/ Natural Vegetation Mosaic", 20178, "#3e9a4b", CNV_Q1, CNV_MED, CNV_Q3, CNV_LO, CNV_HI),
    ("Croplands", 4467, "#56ab4a", CRO_Q1, CRO_MED, CRO_Q3, CRO_LO, CRO_HI),
    ("Open Shrublands", 4596, "#72bb45", OSH_Q1, OSH_MED, OSH_Q3, OSH_LO, OSH_HI),
    ("Grasslands", 6435, "#b4de34", GRA_Q1, GRA_MED, GRA_Q3, GRA_LO, GRA_HI),
    ("Barren", 248, "#d3d3d3", BAR_Q1, BAR_MED, BAR_Q3, BAR_LO, BAR_HI),
]

# ── Page geometry: the 8px body margin sits round the figure in the window ────
WIN_W, WIN_H, OFF = 2277, 2320, 8
W, H = WIN_W - 2 * OFF, WIN_H - 2 * OFF
FONT = "DejaVu Sans"


def px_x(px):
    return (px - OFF) / W


def px_y(py):
    return 1 - (py - OFF) / H


COL_PX = [(173, 1111), (1300, 2238)]
ROW_PX = [(120, 529), (672, 1080), (1224, 1632), (1775, 2184)]
X_DOMAINS = [(px_x(a), px_x(b)) for a, b in COL_PX]
Y_DOMAINS = [(px_y(b), px_y(t)) for t, b in ROW_PX]

positions = list(range(len(MONTHS)))
fire_x = (MONTHS.index(-1) + MONTHS.index(1)) / 2
tickvals = np.linspace(MONTHS.index(-36), MONTHS.index(36), len(TICK_LABELS))

fig = go.Figure()
layout = {}
shapes, annotations = [], []

for i, (name, n, color, q1, med, q3, lo, hi) in enumerate(PANELS):
    row, col = divmod(i, 2)
    k = "" if i == 0 else str(i + 1)
    xa, ya = "x" + k, "y" + k

    fig.add_trace(go.Box(
        x=positions, q1=q1, median=med, q3=q3,
        lowerfence=lo, upperfence=hi,
        xaxis=xa, yaxis=ya,
        fillcolor=color,
        line=dict(color="#5e5e5e", width=1.6),
        width=0.78, whiskerwidth=0.4,
        boxpoints=False, showlegend=False,
    ))

    layout["xaxis" + k] = dict(
        domain=X_DOMAINS[col], anchor=ya, range=[-0.96, 71.96],
        tickmode="array", tickvals=tickvals, ticktext=TICK_LABELS,
        showticklabels=(row == 3), ticks="outside", ticklen=7, tickwidth=1.5,
        tickcolor="#444", tickfont=dict(family=FONT, size=34, color="#111"),
        showgrid=True, gridcolor="#d6d6d6", gridwidth=1.6,
        showline=True, linecolor="#555", linewidth=2.5, mirror=True,
        zeroline=False, automargin=False,
    )
    layout["yaxis" + k] = dict(
        domain=Y_DOMAINS[row], anchor=xa, range=[-3, 7],
        tickmode="array", tickvals=[-2, 0, 2, 4, 6],
        ticktext=["\u22122", "0", "2", "4", "6"],
        ticks="outside", ticklen=6, tickwidth=1.5, tickcolor="#444",
        tickfont=dict(family=FONT, size=15, color="#222"),
        showgrid=True, gridcolor="#d6d6d6", gridwidth=1.6,
        showline=True, linecolor="#555", linewidth=2.5, mirror=True,
        zeroline=False, automargin=False,
    )

    # dashed zero line over the boxes
    shapes.append(dict(type="line", xref=xa + " domain", yref=ya,
                       x0=0, x1=1, y0=0, y1=0, layer="above",
                       line=dict(color="black", width=3.2, dash="dash")))
    # fire event marker
    shapes.append(dict(type="line", xref=xa, yref=ya + " domain",
                       x0=fire_x, x1=fire_x, y0=0, y1=1, layer="above",
                       line=dict(color="#ff2a2a", width=2.5)))

    # two-line bold title, lines placed separately for tighter spacing
    top = ROW_PX[row][0]
    for text, dy in ((f"<b>{name}</b>", 72), (f"<b>(n={n})</b>", 24)):
        annotations.append(dict(
            x=sum(X_DOMAINS[col]) / 2, y=px_y(top - dy),
            xref="paper", yref="paper", xanchor="center", yanchor="middle",
            showarrow=False, text=text,
            font=dict(family=FONT, size=42, color="black"),
        ))

# ── Axis titles ────────────────────────────────────────────────────────────────
for col in range(2):
    annotations.append(dict(
        x=sum(X_DOMAINS[col]) / 2, y=px_y(2286), xref="paper", yref="paper",
        xanchor="center", yanchor="middle", showarrow=False,
        text="Months relative to fire event",
        font=dict(family=FONT, size=42, color="#111"),
    ))
for xpos in (44, 1190):
    annotations.append(dict(
        x=px_x(xpos), y=px_y(1215), xref="paper", yref="paper",
        xanchor="center", yanchor="middle", showarrow=False, textangle=-90,
        text="Normalized VOD anomaly [-]",
        font=dict(family=FONT, size=42, color="#111"),
    ))

fig.update_layout(
    **layout,
    shapes=shapes,
    annotations=annotations,
    width=W, height=H,
    margin=dict(l=0, r=0, t=0, b=0),
    plot_bgcolor="white", paper_bgcolor="white",
    font=dict(family=FONT),
)

fig.write_html("out.html")
